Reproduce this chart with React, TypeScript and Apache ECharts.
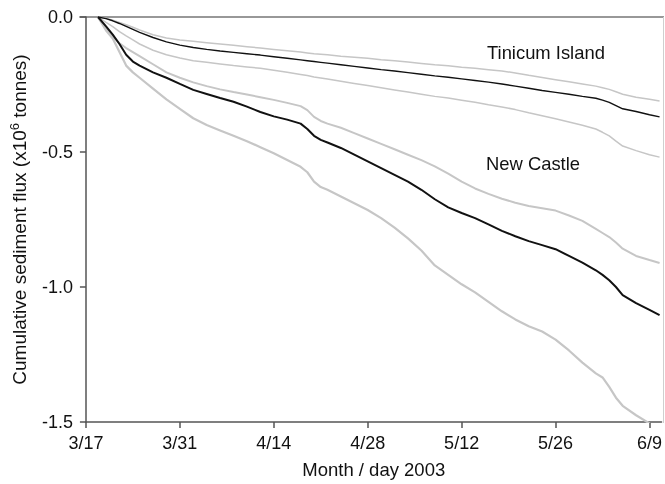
import React, { useEffect, useRef } from "react";
import * as echarts from "echarts";

// Days since 3/17/2003
const days = [1.8, 3, 4, 5, 6, 7, 8, 10, 12, 14, 16, 18, 20, 22, 24, 26, 28, 30, 32, 33, 34, 35, 36, 38, 40, 42, 44, 46, 48, 50, 52, 54, 56, 58, 60, 62, 64, 66, 68, 70, 72, 74, 76, 77, 78, 79, 80, 82, 84, 85.5];

const tinicumUpper = [0, -0.005, -0.012, -0.02, -0.029, -0.038, -0.048, -0.066, -0.078, -0.085, -0.09, -0.095, -0.1, -0.105, -0.11, -0.115, -0.12, -0.125, -0.13, -0.133, -0.136, -0.138, -0.14, -0.145, -0.149, -0.153, -0.158, -0.162, -0.167, -0.172, -0.177, -0.181, -0.186, -0.19, -0.195, -0.2, -0.207, -0.216, -0.224, -0.232, -0.24, -0.248, -0.256, -0.262, -0.268, -0.277, -0.286, -0.297, -0.305, -0.311];
const tinicum = [0, -0.006, -0.014, -0.024, -0.035, -0.046, -0.057, -0.076, -0.092, -0.104, -0.113, -0.12, -0.126, -0.131, -0.136, -0.141, -0.147, -0.153, -0.159, -0.162, -0.165, -0.168, -0.171, -0.177, -0.183, -0.189, -0.195, -0.2, -0.206, -0.212, -0.218, -0.223, -0.229, -0.235, -0.241, -0.248, -0.256, -0.264, -0.272, -0.279, -0.286, -0.294, -0.301, -0.308, -0.316, -0.328, -0.34, -0.35, -0.362, -0.37];
const tinicumLower = [0, -0.02, -0.036, -0.054, -0.07, -0.085, -0.1, -0.123, -0.14, -0.152, -0.162, -0.168, -0.174, -0.18, -0.185, -0.19, -0.197, -0.205, -0.213, -0.217, -0.222, -0.226, -0.23, -0.238, -0.246, -0.254, -0.262, -0.27, -0.278, -0.286, -0.294, -0.3, -0.308, -0.316, -0.325, -0.333, -0.343, -0.355, -0.366, -0.377, -0.389, -0.401, -0.415, -0.427, -0.44, -0.46, -0.478, -0.495, -0.51, -0.519];
const newCastleUpper = [0, -0.04, -0.072, -0.097, -0.115, -0.13, -0.145, -0.175, -0.205, -0.225, -0.242, -0.256, -0.268, -0.278, -0.287, -0.297, -0.307, -0.318, -0.33, -0.345, -0.37, -0.385, -0.395, -0.41, -0.43, -0.45, -0.47, -0.49, -0.51, -0.53, -0.553, -0.58, -0.61, -0.635, -0.655, -0.673, -0.688, -0.7, -0.708, -0.717, -0.735, -0.755, -0.785, -0.8, -0.815, -0.835, -0.858, -0.885, -0.9, -0.911];
const newCastle = [0, -0.035, -0.065, -0.1, -0.14, -0.165, -0.18, -0.205, -0.225, -0.248, -0.27, -0.285, -0.3, -0.314, -0.332, -0.352, -0.368, -0.38, -0.395, -0.415, -0.44, -0.455, -0.465, -0.485, -0.51, -0.535, -0.56, -0.585, -0.61, -0.64, -0.675, -0.705, -0.726, -0.745, -0.768, -0.792, -0.812, -0.83, -0.845, -0.86, -0.885, -0.91, -0.938, -0.955, -0.975, -1.0, -1.03, -1.06, -1.085, -1.104];
const newCastleLower = [0, -0.05, -0.08, -0.13, -0.18, -0.205, -0.225, -0.265, -0.305, -0.34, -0.375, -0.4, -0.42, -0.44, -0.46, -0.482, -0.505, -0.53, -0.555, -0.575, -0.61, -0.63, -0.64, -0.665, -0.69, -0.715, -0.745, -0.78, -0.82, -0.865, -0.92, -0.955, -0.99, -1.02, -1.055, -1.09, -1.12, -1.145, -1.165, -1.195, -1.235, -1.28, -1.32, -1.335, -1.37, -1.41, -1.44, -1.475, -1.505, -1.53];

const xTickValues = [0, 14, 28, 42, 56, 70, 84];
const xTickLabels = ["3/17", "3/31", "4/14", "4/28", "5/12", "5/26", "6/9"];
const yTickValues = [0, -0.5, -1, -1.5];
const yTickLabels = ["0.0", "-0.5", "-1.0", "-1.5"];

const FONT = '"Liberation Sans", Arial, sans-serif';
const GRAY = "#c6c6c6";
const BLACK = "#111111";

const GRID = { left: 85.3, right: 1, top: 17, bottom: 61 };
const W = 665;
const H = 484;

function toPairs(vals: number[]) {
  return days.map((d, i) => [d, vals[i]]);
}

export default function App() {
  const ref = useRef<HTMLDivElement>(null);
  useEffect(() => {
    if (!ref.current) return;
    const chart = echarts.init(ref.current, null, { renderer: "svg" });
    const mk = (name: string, vals: number[], color: string, width: number) => ({
      name,
      type: "line",
      data: toPairs(vals),
      showSymbol: false,
      symbol: "none",
      lineStyle: { color, width },
      clip: true,
      silent: true,
    });
    const right = W - GRID.right;
    chart.setOption({
      animation: false,
      textStyle: { fontFamily: FONT },
      grid: GRID,
      xAxis: {
        type: "value",
        min: 0,
        max: 85.8,
        position: "bottom",
        axisLine: { show: true, onZero: false, lineStyle: { color: "#555", width: 1.5 } },
        axisTick: { show: true, length: 6, customValues: xTickValues, lineStyle: { color: "#555", width: 1.5 } },
        axisLabel: {
          customValues: xTickValues,
          formatter: (v: number) => {
            const i = xTickValues.findIndex((t) => Math.abs(t - v) < 1e-6);
            return i >= 0 ? xTickLabels[i] : "";
          },
          fontSize: 18,
          color: "#111",
          fontFamily: FONT,
          margin: 12,
        },
        splitLine: { show: false },
        name: "Month / day 2003",
        nameLocation: "middle",
        nameGap: 38,
        nameTextStyle: { fontSize: 18.5, color: "#111", fontFamily: FONT },
      },
      yAxis: {
        type: "value",
        min: -1.5,
        max: 0,
        interval: 0.5,
        axisLine: { show: true, onZero: false, lineStyle: { color: "#555", width: 1.5 } },
        axisTick: { show: true, length: 6, lineStyle: { color: "#555", width: 1.5 } },
        axisLabel: {
          formatter: (v: number) => {
            const i = yTickValues.findIndex((t) => Math.abs(t - v) < 1e-6);
            return i >= 0 ? yTickLabels[i] : "";
          },
          fontSize: 18,
          color: "#111",
          fontFamily: FONT,
          margin: 13,
        },
        splitLine: { show: false },
        name: "Cumulative sediment flux (x10{sup|6} tonnes)",
        nameLocation: "middle",
        nameGap: 52,
        nameTextStyle: {
          fontSize: 19,
          color: "#111",
          fontFamily: FONT,
          lineHeight: 23,
          rich: {
            sup: { fontSize: 13, lineHeight: 13, verticalAlign: "top", color: "#111", fontFamily: FONT },
          },
        },
      },
      series: [
        mk("Tinicum upper", tinicumUpper, GRAY, 1.5),
        mk("Tinicum lower", tinicumLower, GRAY, 1.5),
        mk("New Castle upper", newCastleUpper, GRAY, 2),
        mk("New Castle lower", newCastleLower, GRAY, 2.2),
        mk("Tinicum Island", tinicum, BLACK, 1.4),
        mk("New Castle", newCastle, BLACK, 2),
      ],
      graphic: [
        {
          type: "line",
          shape: { x1: GRID.left - 6, y1: GRID.top, x2: right, y2: GRID.top },
          style: { stroke: "#333", lineWidth: 1.2 },
          silent: true,
        },
        {
          type: "line",
          shape: { x1: right - 0.5, y1: GRID.top, x2: right - 0.5, y2: H - GRID.bottom },
          style: { stroke: "#cfcfcf", lineWidth: 1 },
          silent: true,
        },
        {
          type: "text",
          x: 487,
          y: 52,
          style: { text: "Tinicum Island", fontSize: 18.4, fontFamily: FONT, fill: "#111", verticalAlign: "middle", align: "left" },
        },
        {
          type: "text",
          x: 486,
          y: 163,
          style: { text: "New Castle", fontSize: 18.4, fontFamily: FONT, fill: "#111", verticalAlign: "middle", align: "left" },
        },
      ],
    });
    return () => chart.dispose();
  }, []);
  return <div ref={ref} style={{ position: "fixed", left: 0, top: 0, width: W, height: H }} />;
}
